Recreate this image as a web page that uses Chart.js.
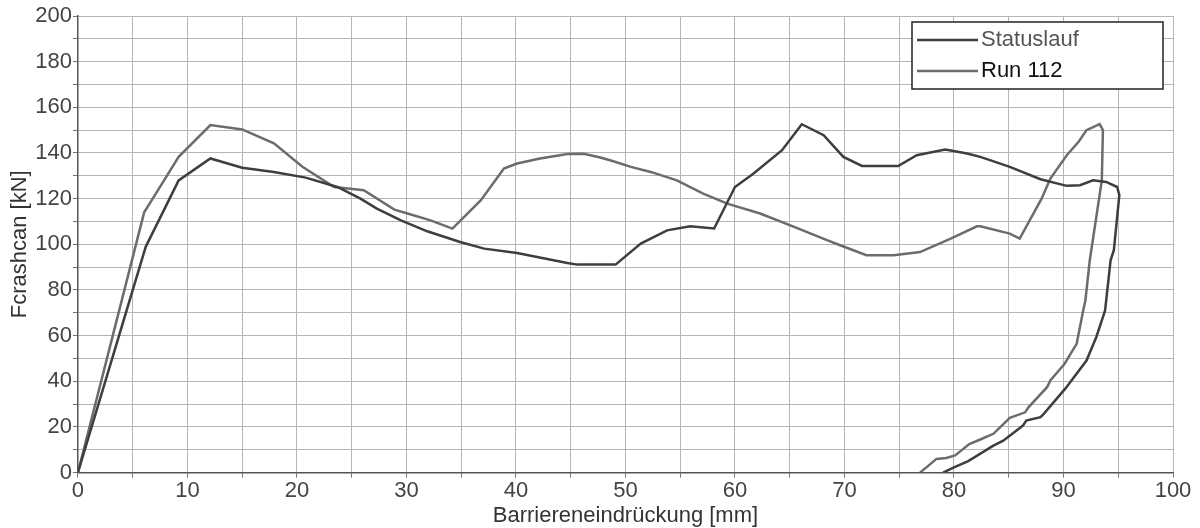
<!DOCTYPE html>
<html>
<head>
<meta charset="utf-8">
<script src="https://cdn.jsdelivr.net/npm/chart.js@4/dist/chart.umd.min.js"></script>
<style>
  html, body { margin: 0; padding: 0; background: #fff; }
  #wrap { width: 1200px; height: 528px; }
</style>
</head>
<body>
<div id="wrap"><canvas id="crashChart"></canvas></div>
<script>
// Statuslauf curve (x = Barriereneindrückung mm, y = kN)
var statusX = [0, 6.2, 9.2, 12.1, 15.0, 17.9, 20.8, 23.7, 25.8, 27.3, 29.5, 31.9, 34.9, 37.1, 40.1, 44.7, 45.6, 49.1,
    51.4, 53.8, 55.9, 58.1, 60.0, 61.7, 64.3, 66.1, 68.1, 69.9, 71.6, 74.9, 76.6, 79.2, 81.2, 82.4, 85.1, 87.9,
    90.3, 91.5, 92.7, 93.9, 94.9, 95.1, 94.6, 94.3, 93.8, 93.0, 92.1, 90.2, 88.2, 87.9, 86.6, 86.3, 84.5, 83.6,
    81.3, 80.0, 79.0];
var statusY = [0, 99, 128, 137.6, 133.5, 131.7, 129.2, 125.1, 120, 115.6, 110.5, 105.7, 101, 98.1, 96.2, 91.8, 91.1, 91.1,
    100.3, 106.1, 107.9, 106.9, 125.1, 131, 141.2, 152.6, 147.8, 138.3, 134.3, 134.3, 139, 141.5, 139.8, 138.3, 133.9, 128.5,
    125.6, 125.9, 128, 127.3, 125.1, 121.5, 97.4, 93, 71, 59.4, 49.1, 37, 25.7, 24.3, 22.8, 20.6, 14, 11.8,
    5, 2.3, 0];

// Run 112 curve
var runX = [0, 6.05, 7.4, 9.2, 12.1, 15.0, 17.9, 20.5, 23.4, 26.1, 28.9, 30.1, 32.2, 34.2, 36.8, 38.9, 40.1, 42.2,
    44.7, 46.2, 47.7, 48.6, 50.5, 52.3, 54.7, 57.1, 59.3, 62.3, 65.4, 68.4, 69.6, 72.0, 74.5, 76.9, 79.7, 82.1,
    82.4, 85.1, 86.0, 88.0, 88.8, 90.3, 91.4, 92.1, 93.3, 93.6, 93.5, 92.4, 92.0, 91.8, 91.2, 90.1, 88.8, 88.5,
    86.8, 86.5, 85.1, 83.6, 82.4, 81.4, 80.1, 79.3, 78.4, 76.9];
var runY = [0, 114, 124.4, 138.3, 152.2, 150.3, 144.2, 134, 125.1, 123.7, 115.2, 113.5, 110.5, 106.9, 119.3, 133.2, 135.4, 137.6,
    139.5, 139.7, 138, 136.8, 133.9, 131.7, 128, 122.2, 117.8, 113.5, 107.6, 101.8, 99.6, 95.2, 95.2, 96.6, 102.5, 107.9,
    107.9, 104.7, 102.5, 120, 128.8, 139, 145, 150, 152.6, 150, 128, 93, 75.4, 71, 56.4, 47.7, 40.4, 37.4,
    28.6, 26.4, 24, 17, 14.5, 12.5, 7.5, 6.4, 6, 0];

var seriesLabels = ['Statuslauf', 'Run 112'];
var seriesColors = ['#3e3e3e', '#6c6c6c'];
var legendTextColors = ['#555555', '#111111'];

function toPoints(xs, ys) {
    return xs.map(function (x, i) { return { x: x, y: ys[i] }; });
}

// legend drawn inside the plot area, top right, with a plain black frame
var boxLegend = {
    id: 'boxLegend',
    afterDraw: function (chart) {
        var ctx = chart.ctx;
        var area = chart.chartArea;
        var w = 251, h = 67;
        var left = area.right - 10 - w;
        var top = area.top + 6;
        ctx.save();
        ctx.fillStyle = '#fff';
        ctx.fillRect(left, top, w, h);
        ctx.strokeStyle = '#222';
        ctx.lineWidth = 1.5;
        ctx.strokeRect(left, top, w, h);
        ctx.font = '22px "Liberation Sans", Arial, sans-serif';
        ctx.textBaseline = 'middle';
        chart.data.datasets.forEach(function (ds, i) {
            var y = top + 18 + i * 31;
            ctx.strokeStyle = ds.borderColor;
            ctx.lineWidth = 2.5;
            ctx.beginPath();
            ctx.moveTo(left + 5, y);
            ctx.lineTo(left + 66, y);
            ctx.stroke();
            ctx.fillStyle = legendTextColors[i];
            ctx.fillText(ds.label, left + 69, y);
        });
        ctx.restore();
    }
};

Chart.defaults.font.family = '"Liberation Sans", Arial, sans-serif';
Chart.defaults.color = '#444';

var ctx = document.getElementById('crashChart').getContext('2d');
new Chart(ctx, {
    type: 'scatter',
    data: {
        datasets: [{
            label: seriesLabels[0],
            data: toPoints(statusX, statusY),
            showLine: true,
            borderColor: seriesColors[0],
            borderWidth: 2.5,
            pointRadius: 0,
            tension: 0
        }, {
            label: seriesLabels[1],
            data: toPoints(runX, runY),
            showLine: true,
            borderColor: seriesColors[1],
            borderWidth: 2.5,
            pointRadius: 0,
            tension: 0
        }]
    },
    options: {
        responsive: true,
        maintainAspectRatio: false,
        animation: false,
        layout: {
            padding: { top: 16, right: 27, left: 8, bottom: 0 }
        },
        scales: {
            x: {
                type: 'linear',
                min: 0,
                max: 100,
                ticks: {
                    stepSize: 5,
                    autoSkip: false,
                    maxRotation: 0,
                    padding: 1,
                    font: { size: 22, lineHeight: 1.1 },
                    callback: function (v) { return v % 10 === 0 ? v : ''; }
                },
                grid: {
                    color: '#b5b5b5',
                    tickLength: 5,
                    tickColor: '#777'
                },
                border: { color: '#555', width: 1.5 },
                title: {
                    display: true,
                    text: 'Barriereneindrückung [mm]',
                    font: { size: 22, lineHeight: 1.1 },
                    color: '#333',
                    padding: { top: 0, bottom: 0 }
                }
            },
            y: {
                min: 0,
                max: 200,
                ticks: {
                    stepSize: 10,
                    autoSkip: false,
                    padding: 1,
                    font: { size: 22, lineHeight: 1.1 },
                    callback: function (v) { return v % 20 === 0 ? v : ''; }
                },
                grid: {
                    color: '#b5b5b5',
                    tickLength: 5,
                    tickColor: '#777'
                },
                border: { color: '#555', width: 1.5 },
                title: {
                    display: true,
                    text: 'Fcrashcan [kN]',
                    font: { size: 22, lineHeight: 1.1 },
                    color: '#333',
                    padding: { top: 0, bottom: 2 }
                }
            }
        },
        plugins: {
            legend: { display: false },
            tooltip: { enabled: false }
        }
    },
    plugins: [boxLegend]
});
</script>
</body>
</html>
